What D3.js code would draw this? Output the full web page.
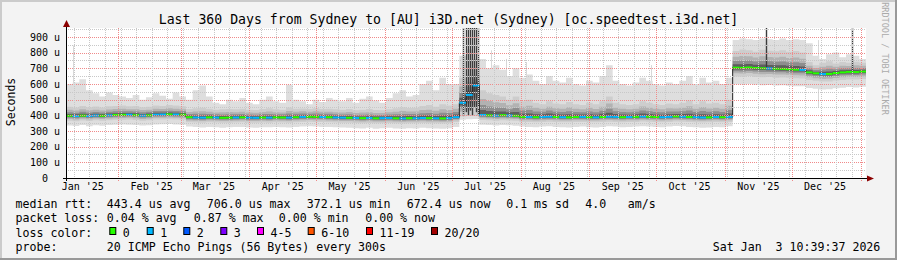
<!DOCTYPE html>
<html>
<head>
<meta charset="utf-8">
<script src="https://cdn.jsdelivr.net/npm/d3@7"></script>
<style>
body { margin: 0; background: #f3f3f3; }
svg { display: block; font-family: "DejaVu Sans Mono", monospace; }
</style>
</head>
<body>
<div id="chart"></div>
<script>
// 360 days, one value every 3 days (120 bins), values in microseconds
var startTime = new Date(Date.UTC(2025, 0, 8, 10, 39, 37));
var endTime = new Date(Date.UTC(2026, 0, 3, 10, 39, 37));
var binDays = 3;

var median = [
  397,395,398,396,399,397,400,402,
  403,404,401,398,400,404,405,406,405,404,
  388,386,385,387,386,384,385,386,387,385,384,386,385,387,386,385,388,390,391,390,389,388,
  386,385,384,383,382,383,381,382,383,381,380,382,381,383,382,381,380,382,
  388,480,530,590,
  402,400,398,401,399,397,
  390,389,388,390,391,389,388,387,389,390,388,387,389,391,390,388,389,390,392,391,389,388,390,393,391,389,388,386,387,389,388,390,
  704,703,705,702,700,699,697,696,694,691,690,
  674,668,663,664,670,674,677,676,679
];
var pingMin = [
  335,332,338,330,336,334,338,340,
  342,340,338,335,337,342,343,345,342,340,
  328,325,322,326,324,320,323,325,326,322,320,324,323,326,324,322,326,328,330,328,326,325,
  324,322,320,318,316,320,315,318,320,316,314,318,316,320,318,316,314,318,
  325,372,375,376,
  340,338,335,338,336,334,
  328,326,324,328,330,326,324,322,326,328,324,322,326,330,328,324,326,328,330,328,326,324,328,332,330,326,324,320,322,326,324,330,
  598,596,600,595,592,594,590,592,588,585,586,
  575,570,565,566,572,576,580,578,582
];
var pingLo = [
  365,362,367,363,368,366,369,371,
  372,373,370,366,368,373,374,375,373,372,
  356,354,353,355,354,352,353,354,355,353,352,354,353,355,354,353,356,358,359,358,357,356,
  354,353,352,351,350,351,349,350,351,349,348,350,349,351,350,349,348,350,
  358,392,395,396,
  370,368,366,369,367,365,
  358,357,356,358,359,357,356,355,357,358,356,355,357,359,358,356,357,358,360,359,357,356,358,361,359,357,356,354,355,357,356,358,
  648,646,650,645,642,644,640,641,639,636,635,
  625,620,615,616,622,626,629,628,631
];
var pingHi = [
  455,450,460,452,456,450,458,460,
  462,458,460,452,455,462,460,465,462,458,
  440,445,448,442,436,438,440,438,442,436,434,440,445,438,436,450,442,444,440,445,440,442,
  438,436,440,432,436,440,434,432,438,445,452,446,448,460,465,455,470,462,
  470,640,660,690,
  560,540,530,520,500,520,
  490,500,480,470,490,475,470,485,470,465,480,470,490,520,480,470,465,470,490,480,470,465,475,470,480,495,470,490,475,480,470,500,
  810,820,815,805,818,812,808,815,805,810,800,
  740,720,735,745,730,740,735,742,736
];
var pingMax = [
  600,610,630,560,540,520,545,530,
  520,510,530,500,515,540,525,505,545,520,
  500,560,590,520,480,470,500,490,510,480,470,500,520,490,480,595,500,490,470,500,485,510,
  500,490,510,480,505,520,495,480,510,540,560,520,530,600,620,560,640,600,
  600,780,820,760,
  760,700,720,690,650,700,
  640,660,620,600,650,620,610,640,600,590,620,610,650,720,620,600,590,610,640,620,600,590,610,600,620,650,600,640,610,620,600,640,
  880,890,885,880,890,885,880,890,880,885,880,
  860,780,760,790,800,770,790,780,760
];
var lossCount = [
  0,1,0,1,1,0,1,0,0,1,0,1,0,1,1,0,1,0,0,1,
  1,0,1,0,0,1,0,1,1,0,1,0,0,1,0,1,0,0,1,0,
  1,1,0,1,0,1,0,1,1,0,1,0,1,1,0,1,0,1,1,1,
  1,1,
  1,0,1,0,1,0,0,1,0,1,1,0,1,0,0,1,0,1,
  0,1,1,0,1,0,1,0,0,1,1,0,1,0,1,1,0,1,0,1,
  0,0,0,0,0,1,0,0,0,0,1,0,0,1,0,0,0,0,0,0
];

// single outlier columns
var darkSpikeDates = ["2025-07-06T06:00Z","2025-07-07T10:00Z","2025-07-08T08:00Z","2025-07-09T06:00Z",
  "2025-07-10T04:00Z","2025-07-11T06:00Z","2025-07-12T04:00Z","2025-07-13T00:00Z",
  "2025-11-19T10:00Z","2025-12-28T06:00Z"];
var darkSpikeBase = [400,420,400,430,400,450,420,400,700,680];
var darkSpikeTop = [1000,1000,1000,1000,1000,1000,1000,1000,1000,1000];
var lightSpikeDates = ["2025-01-11T12:00Z","2025-07-18T12:00Z","2025-07-25T12:00Z","2025-08-03T12:00Z",
  "2025-09-28T12:00Z","2025-12-12T18:00Z"];
var lightSpikeTop = [845,815,760,740,720,880];

var yTicks = [0,100,200,300,400,500,600,700,800,900];
var rttStats = ["443.4","706.0","372.1","672.4"];
var lossStats = ["0.04","0.87","0.00","0.00"];
var lossLabels = ["0","1","2","3","4-5","6-10","11-19","20/20"];
var lossColors = ["#26ff00","#00b8ff","#0059ff","#7e00ff","#ff00ff","#ff5500","#ff0000","#a10000"];

var width = 897, height = 260;
var plotLeft = 66, plotRight = 866, plotTop = 28, plotBottom = 178;

var x = d3.scaleTime().domain([startTime, endTime]).range([plotLeft, plotRight]);
var y = d3.scaleLinear().domain([0, 957]).range([plotBottom, plotTop]).clamp(true);

var svg = d3.select("#chart").append("svg")
    .attr("width", width)
    .attr("height", height);

// frame
svg.append("rect").attr("width", width).attr("height", height).attr("fill", "#f3f3f3");
svg.append("rect").attr("width", width).attr("height", 2).attr("fill", "#cbcbcb");
svg.append("rect").attr("width", 2).attr("height", height).attr("fill", "#cbcbcb");
svg.append("rect").attr("y", height - 2).attr("width", width).attr("height", 2).attr("fill", "#999");
svg.append("rect").attr("x", width - 2).attr("width", 2).attr("height", height).attr("fill", "#999");

svg.append("rect")
    .attr("x", plotLeft).attr("y", plotTop)
    .attr("width", plotRight - plotLeft).attr("height", plotBottom - plotTop)
    .attr("fill", "#fff");

svg.append("clipPath").attr("id", "plotclip")
  .append("rect")
    .attr("x", plotLeft).attr("y", plotTop)
    .attr("width", plotRight - plotLeft).attr("height", plotBottom - plotTop);

var bins = median.map(function(m, i) {
  return {
    t: d3.utcDay.offset(startTime, binDays * i),
    t1: d3.utcDay.offset(startTime, binDays * (i + 1)),
    med: m, min: pingMin[i], lo: pingLo[i], hi: pingHi[i], max: pingMax[i], loss: lossCount[i]
  };
});
var last = bins[bins.length - 1];
var areaData = bins.concat([Object.assign({}, last, {t: last.t1})]);

var plot = svg.append("g").attr("clip-path", "url(#plotclip)");

// light outliers behind the smoke
plot.selectAll(".lspike")
  .data(lightSpikeDates)
  .enter().append("line")
    .attr("class", "lspike")
    .attr("x1", function(d) { return Math.round(x(new Date(d))) + 0.5; })
    .attr("x2", function(d) { return Math.round(x(new Date(d))) + 0.5; })
    .attr("y1", y(450))
    .attr("y2", function(d, i) { return y(lightSpikeTop[i]); })
    .attr("stroke", "#d8d8d8");

// smoke
function band(f0, f1) {
  return d3.area().curve(d3.curveStepAfter)
    .x(function(d) { return x(d.t); })
    .y0(function(d) { return y(f0(d)); })
    .y1(function(d) { return y(f1(d)); });
}
plot.append("path").datum(areaData).attr("fill", "#dedede")
    .attr("d", band(function(d) { return d.min; }, function(d) { return d.max; }));
plot.append("path").datum(areaData).attr("fill", "#cdcdcd")
    .attr("d", band(function(d) { return d.lo; }, function(d) { return d.hi; }));
[[0.65, "#b2b2b2"], [0.4, "#8e8e8e"], [0.2, "#5e5e5e"]].forEach(function(s) {
  var k = s[0];
  plot.append("path").datum(areaData).attr("fill", s[1])
      .attr("d", band(function(d) { return d.med - k * (d.med - d.lo); },
                      function(d) { return d.med + k * (d.hi - d.med); }));
});

// grid
var grid = svg.append("g").attr("shape-rendering", "crispEdges");
d3.range(50, 957, 50).forEach(function(v) {
  var major = v % 100 === 0;
  grid.append("line")
      .attr("x1", plotLeft).attr("x2", plotRight)
      .attr("y1", Math.round(y(v)) + 0.5).attr("y2", Math.round(y(v)) + 0.5)
      .attr("stroke", major ? "#f08a8a" : "#c8c8c8")
      .attr("stroke-dasharray", "1,1");
});
d3.utcSunday.range(startTime, endTime).forEach(function(d) {
  grid.append("line")
      .attr("x1", Math.round(x(d)) + 0.5).attr("x2", Math.round(x(d)) + 0.5)
      .attr("y1", plotTop).attr("y2", plotBottom)
      .attr("stroke", "#c8c8c8")
      .attr("stroke-dasharray", "1,1");
});
d3.utcMonth.range(startTime, endTime).forEach(function(d) {
  grid.append("line")
      .attr("x1", Math.round(x(d)) + 0.5).attr("x2", Math.round(x(d)) + 0.5)
      .attr("y1", plotTop).attr("y2", plotBottom + 3)
      .attr("stroke", "#f08a8a")
      .attr("stroke-dasharray", "1,1");
});

// dark outliers
plot.selectAll(".dspike")
  .data(darkSpikeDates)
  .enter().append("line")
    .attr("class", "dspike")
    .attr("x1", function(d) { return Math.round(x(new Date(d))) + 0.5; })
    .attr("x2", function(d) { return Math.round(x(new Date(d))) + 0.5; })
    .attr("y1", function(d, i) { return y(darkSpikeBase[i]); })
    .attr("y2", function(d, i) { return y(darkSpikeTop[i]); })
    .attr("stroke", "#3c3c3c")
    .attr("stroke-width", 1.4);

// median rtt
plot.append("path").datum(areaData)
    .attr("fill", "none").attr("stroke", "#222").attr("stroke-width", 1)
    .attr("d", d3.line().curve(d3.curveStepAfter)
      .x(function(d) { return x(d.t); })
      .y(function(d) { return y(d.med); }));
plot.selectAll(".med")
  .data(bins)
  .enter().append("line")
    .attr("class", "med")
    .attr("x1", function(d) { return x(d.t); })
    .attr("x2", function(d) { return x(d.t1); })
    .attr("y1", function(d) { return y(d.med); })
    .attr("y2", function(d) { return y(d.med); })
    .attr("stroke", function(d) { return lossColors[d.loss]; })
    .attr("stroke-width", 2);

// axes
svg.append("line").attr("x1", plotLeft - 3).attr("x2", plotRight + 4)
    .attr("y1", plotBottom + 0.5).attr("y2", plotBottom + 0.5).attr("stroke", "#000");
svg.append("line").attr("x1", plotLeft + 0.5).attr("x2", plotLeft + 0.5)
    .attr("y1", plotBottom + 3).attr("y2", plotTop - 4).attr("stroke", "#000");
svg.append("path").attr("fill", "#8b0000")
    .attr("d", "M" + (plotRight + 1) + "," + (plotBottom - 2.5) + "L" + (plotRight + 8) + "," + (plotBottom + 0.5) + "L" + (plotRight + 1) + "," + (plotBottom + 3.5) + "Z");
svg.append("path").attr("fill", "#8b0000")
    .attr("d", "M" + (plotLeft - 3) + "," + (plotTop - 1) + "L" + (plotLeft + 0.5) + "," + (plotTop - 8) + "L" + (plotLeft + 4) + "," + (plotTop - 1) + "Z");

svg.selectAll(".ylab")
  .data(yTicks)
  .enter().append("text")
    .attr("class", "ylab")
    .attr("x", function(d) { return d === 0 ? 48 : 60; })
    .attr("y", function(d) { return y(d) + 3.6; })
    .attr("text-anchor", "end")
    .attr("font-size", 10)
    .attr("fill", "#000")
    .text(function(d) { return d === 0 ? "0" : d + " u"; });

var monthFmt = d3.utcFormat("%b '%y");
var labelMonths = d3.utcMonth.range(d3.utcMonth.floor(startTime), endTime)
  .filter(function(m) { return d3.utcDay.offset(m, 15) < endTime; });
svg.selectAll(".xlab")
  .data(labelMonths)
  .enter().append("text")
    .attr("class", "xlab")
    .attr("x", function(d) { return x(d3.utcDay.offset(d, 15)); })
    .attr("y", 190)
    .attr("text-anchor", "middle")
    .attr("font-size", 10)
    .text(monthFmt);

// titles
svg.append("text").attr("x", 448.5).attr("y", 24).attr("text-anchor", "middle")
    .attr("font-size", 13.2)
    .text("Last 360 Days from Sydney to [AU] i3D.net (Sydney) [oc.speedtest.i3d.net]");
svg.append("text").attr("transform", "translate(15,102) rotate(-90)")
    .attr("text-anchor", "middle").attr("font-size", 11.5).text("Seconds");
svg.append("text").attr("transform", "translate(882,58.5) rotate(90)")
    .attr("text-anchor", "middle").attr("font-size", 8.5).attr("fill", "#aaa")
    .text("RRDTOOL / TOBI OETIKER");

// legend
var fs = 11.6;
function put(tx, ty, s) {
  svg.append("text").attr("x", tx).attr("y", ty).attr("font-size", fs)
      .attr("xml:space", "preserve").style("white-space", "pre").text(s);
}
put(15.5, 207.5, "median rtt:");
put(106.8, 207.5, rttStats[0] + " us avg");
put(206.8, 207.5, rttStats[1] + " us max");
put(306.8, 207.5, rttStats[2] + " us min");
put(406.8, 207.5, rttStats[3] + " us now");
put(506.2, 207.5, "0.1 ms sd");
put(585.2, 207.5, "4.0");
put(627.8, 207.5, "am/s");

put(15.5, 222, "packet loss:");
put(106.8, 222, lossStats[0] + " % avg");
put(193.8, 222, lossStats[1] + " % max");
put(278.8, 222, lossStats[2] + " % min");
put(365.2, 222, lossStats[3] + " % now");

put(15.5, 236.5, "loss color:");
var lossTextX = [123.3, 160.7, 197.3, 234.3, 271, 321.7, 380, 445];
lossLabels.forEach(function(l, i) {
  svg.append("rect")
      .attr("x", lossTextX[i] - 13.5).attr("y", 227.5)
      .attr("width", 6).attr("height", 7)
      .attr("fill", lossColors[i]).attr("stroke", "#000");
  put(lossTextX[i] - 0.5, 236.5, l);
});

put(15.5, 250.5, "probe:");
put(106.8, 250.5, "20 ICMP Echo Pings (56 Bytes) every 300s");
put(712.8, 250.5, "Sat Jan  3 10:39:37 2026");
</script>
</body>
</html>
